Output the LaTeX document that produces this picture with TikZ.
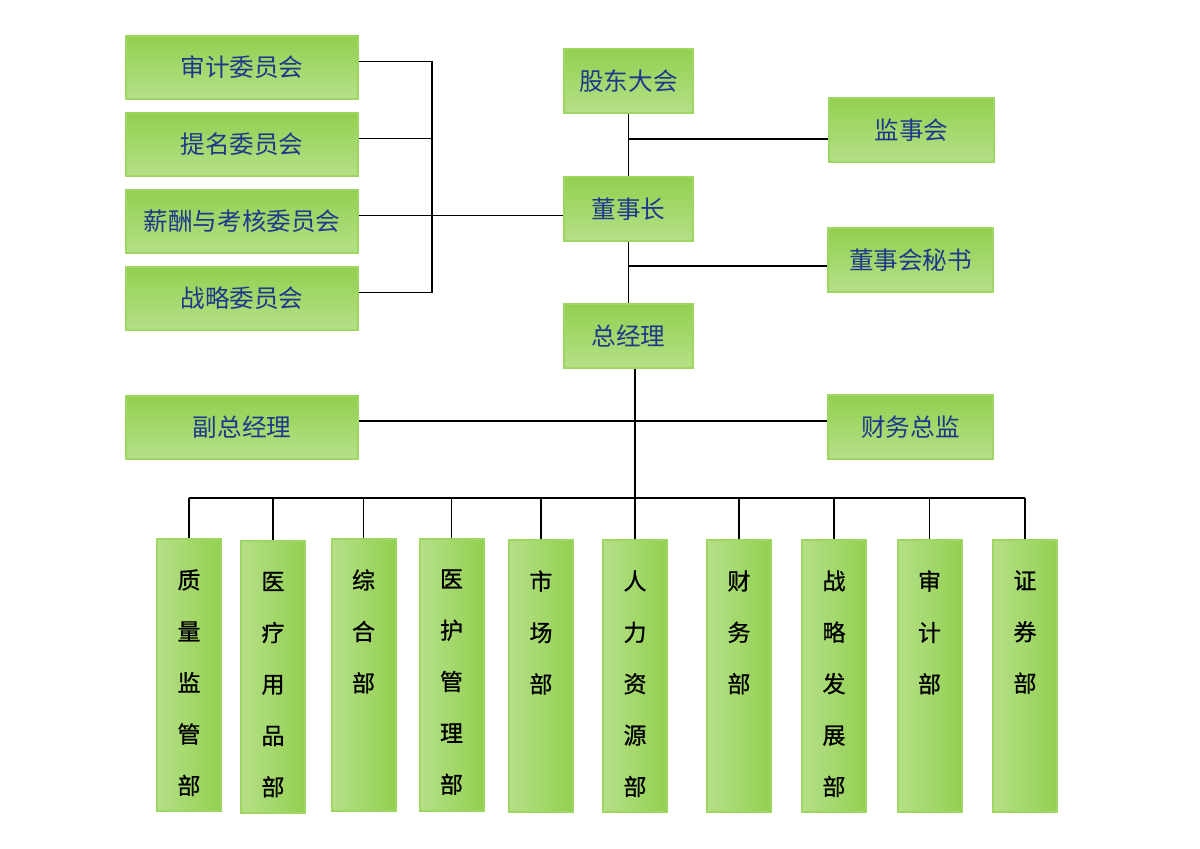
\documentclass[tikz,border=0pt]{standalone}
\usepackage{fontspec}
\newfontfamily\cjk{Noto Sans CJK SC}
\newfontfamily\cjkdept[FakeBold=0.8]{Noto Sans CJK SC}
\definecolor{boxtop}{RGB}{146,208,80}
\definecolor{boxbot}{RGB}{182,224,136}
\definecolor{boxline}{RGB}{158,214,98}
\definecolor{boxtext}{RGB}{31,56,140}
\begin{document}
\begin{tikzpicture}[x=0.5pt,y=-0.5pt,
    box/.style={draw=boxline, line width=1pt, top color=boxtop, bottom color=boxbot,
        text=boxtext, inner sep=0pt, font=\cjk\fontsize{12.3pt}{14pt}\selectfont},
    wide/.style={box, minimum width=116pt, minimum height=31.5pt},
    mid/.style={box, minimum width=64.5pt, minimum height=32pt},
    side/.style={box, minimum width=82.5pt, minimum height=32pt},
    dept/.style={draw=boxline, line width=1pt, left color=boxbot, right color=boxtop,
        minimum width=32pt, minimum height=136pt, inner sep=0pt},
    depttext/.style={anchor=north, inner sep=0pt, align=center, text=black,
        font=\cjkdept\fontsize{11.5pt}{25.7pt}\selectfont},
    link/.style={line width=0.9pt, black}]
    \useasboundingbox (0,0) rectangle (1200,848);

    % committees
    \node[wide] (audit) at (242,67.5) {审计委员会};
    \node[wide] (nomin) at (242,144.5) {提名委员会};
    \node[wide] (remun) at (242,221.5) {薪酬与考核委员会};
    \node[wide] (strat) at (242,298.5) {战略委员会};

    % top management
    \node[mid] (meeting) at (628.5,81) {股东大会};
    \node[mid] (chair) at (628.5,209) {董事长};
    \node[mid] (gm) at (628.5,336) {总经理};
    \node[side] (superv) at (911.5,130) {监事会};
    \node[side] (secr) at (910.5,260) {董事会秘书};
    \node[wide] (vgm) at (242,427) {副总经理};
    \node[side] (cfo) at (910.5,427) {财务总监};

    % departments
    \node[dept] (d1) at (189,675) {};
    \node[dept] (d2) at (273,676.5) {};
    \node[dept] (d3) at (363.5,675) {};
    \node[dept] (d4) at (451.5,675) {};
    \node[dept] (d5) at (541,676) {};
    \node[dept] (d6) at (635,676) {};
    \node[dept] (d7) at (739,676) {};
    \node[dept] (d8) at (834,676) {};
    \node[dept] (d9) at (929.5,676) {};
    \node[dept] (d10) at (1025,676) {};

    \node[depttext] (t1) at ([yshift=-15.5pt]d1.north) {质\\量\\监\\管\\部};
    \node[depttext] (t2) at ([yshift=-16pt]d2.north) {医\\疗\\用\\品\\部};
    \node[depttext] (t3) at ([yshift=-15.5pt]d3.north) {综\\合\\部};
    \node[depttext] (t4) at ([yshift=-15.5pt]d4.north) {医\\护\\管\\理\\部};
    \node[depttext] (t5) at ([yshift=-15.5pt]d5.north) {市\\场\\部};
    \node[depttext] (t6) at ([yshift=-15.5pt]d6.north) {人\\力\\资\\源\\部};
    \node[depttext] (t7) at ([yshift=-15.5pt]d7.north) {财\\务\\部};
    \node[depttext] (t8) at ([yshift=-15.5pt]d8.north) {战\\略\\发\\展\\部};
    \node[depttext] (t9) at ([yshift=-15.5pt]d9.north) {审\\计\\部};
    \node[depttext] (t10) at ([yshift=-15.5pt]d10.north) {证\\券\\部};

    % committee bracket
    \coordinate (cbar) at (432,0);
    \draw[link] ([yshift=3pt]audit.east) -- ([yshift=3pt]audit.east -| cbar)
        -- ([yshift=3pt]strat.east -| cbar) -- ([yshift=3pt]strat.east);
    \draw[link] ([yshift=3pt]nomin.east) -- ([yshift=3pt]nomin.east -| cbar);
    \draw[link] ([yshift=3pt]remun.east) -- ([yshift=3pt]remun.east -| chair.west);

    % trunk
    \coordinate (j1) at (628.5,139);
    \coordinate (j2) at (628.5,266);
    \coordinate (j3) at (635,421);
    \coordinate (bus) at (0,498);
    \draw[link] (meeting) -- (chair);
    \draw[link] (chair) -- (gm);
    \draw[link] (j1) -- (j1 -| superv.west);
    \draw[link] (j2) -- (j2 -| secr.west);
    \draw[link] (gm.south -| d6.north) -- (d6.north);
    \draw[link] (j3 -| vgm.east) -- (j3 -| cfo.west);
    \draw[link] (d1.north |- bus) -- (d10.north |- bus);
    \foreach \i in {1,...,10}
        \draw[link] (d\i.north |- bus) -- (d\i.north);
\end{tikzpicture}
\end{document}
